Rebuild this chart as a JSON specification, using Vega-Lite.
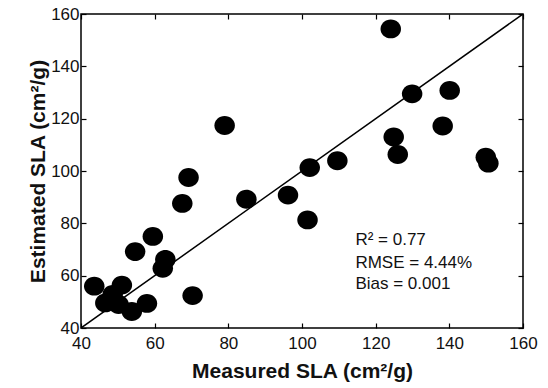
{
  "$schema": "https://vega.github.io/schema/vega-lite/v6.json",
  "width": 442,
  "height": 314,
  "autosize": {"type": "none"},
  "padding": {"left": 81, "top": 14, "right": 25, "bottom": 60},
  "background": "white",
  "config": {
    "font": "Liberation Sans",
    "view": {"stroke": "black", "strokeWidth": 1.5},
    "axis": {
      "grid": false,
      "domain": false,
      "tickColor": "black",
      "tickSize": 5,
      "tickWidth": 1.2,
      "offset": -5,
      "labelFlush": false,
      "labelOverlap": false,
      "labelFont": "Liberation Sans",
      "labelFontSize": 17,
      "labelColor": "#111",
      "titleFont": "Liberation Sans",
      "titleFontSize": 21,
      "titleFontWeight": "bold",
      "titleColor": "#111"
    }
  },
  "resolve": {"axis": {"x": "independent", "y": "independent"}},
  "layer": [
    {
      "data": {"values": [{"m": 40, "e": 40}, {"m": 160, "e": 160}]},
      "mark": {"type": "line", "color": "black", "strokeWidth": 1.5, "clip": true},
      "encoding": {
        "x": {"field": "m", "type": "quantitative", "scale": {"domain": [40, 160], "nice": false},
          "axis": {"orient": "bottom", "values": [40, 60, 80, 100, 120, 140, 160], "labelPadding": 7, "title": "Measured SLA (cm²/g)", "titlePadding": 9}},
        "y": {"field": "e", "type": "quantitative", "scale": {"domain": [40, 160], "nice": false},
          "axis": {"orient": "left", "values": [40, 60, 80, 100, 120, 140, 160], "labelPadding": 2, "title": "Estimated SLA (cm²/g)", "titlePadding": 2}}
      }
    },
    {
      "data": {"values": [{"m": 40, "e": 40}, {"m": 160, "e": 160}]},
      "mark": {"type": "point", "opacity": 0, "size": 0},
      "encoding": {
        "x": {"field": "m", "type": "quantitative",
          "axis": {"orient": "top", "values": [40, 60, 80, 100, 120, 140, 160], "labels": false, "title": null}},
        "y": {"field": "e", "type": "quantitative",
          "axis": {"orient": "right", "values": [40, 60, 80, 100, 120, 140, 160], "labels": false, "title": null}}
      }
    },
    {
      "data": {"values": [
        {"m": 124.1, "e": 154.3},
        {"m": 129.9, "e": 129.5},
        {"m": 140.1, "e": 130.8},
        {"m": 79.0, "e": 117.4},
        {"m": 138.2, "e": 117.2},
        {"m": 124.9, "e": 113.0},
        {"m": 126.0, "e": 106.3},
        {"m": 149.9, "e": 105.3},
        {"m": 150.6, "e": 103.0},
        {"m": 109.6, "e": 103.9},
        {"m": 102.1, "e": 101.3},
        {"m": 69.2, "e": 97.5},
        {"m": 67.5, "e": 87.6},
        {"m": 84.9, "e": 89.2},
        {"m": 96.2, "e": 90.8},
        {"m": 101.5, "e": 81.3},
        {"m": 59.5, "e": 75.0},
        {"m": 54.7, "e": 69.2},
        {"m": 62.9, "e": 66.2},
        {"m": 62.2, "e": 62.8},
        {"m": 43.6, "e": 56.0},
        {"m": 51.1, "e": 56.4},
        {"m": 70.3, "e": 52.4},
        {"m": 48.6, "e": 52.8},
        {"m": 46.6, "e": 49.6},
        {"m": 50.2, "e": 49.0},
        {"m": 53.8, "e": 46.3},
        {"m": 57.9, "e": 49.4}
      ]},
      "mark": {"type": "point", "filled": true, "color": "black", "opacity": 1,
        "shape": "M -1 0 A 1 0.92 0 1 0 1 0 A 1 0.92 0 1 0 -1 0 Z", "size": 420},
      "encoding": {
        "x": {"field": "m", "type": "quantitative", "axis": null},
        "y": {"field": "e", "type": "quantitative", "axis": null}
      }
    },
    {
      "data": {"values": [
        {"m": 114.5, "e": 71.6, "t": "R² = 0.77"},
        {"m": 114.5, "e": 62.9, "t": "RMSE = 4.44%"},
        {"m": 114.5, "e": 55.0, "t": "Bias = 0.001"}
      ]},
      "mark": {"type": "text", "align": "left", "baseline": "alphabetic", "fontSize": 17, "font": "Liberation Sans", "color": "#111"},
      "encoding": {
        "x": {"field": "m", "type": "quantitative", "axis": null},
        "y": {"field": "e", "type": "quantitative", "axis": null},
        "text": {"field": "t"}
      }
    }
  ]
}
